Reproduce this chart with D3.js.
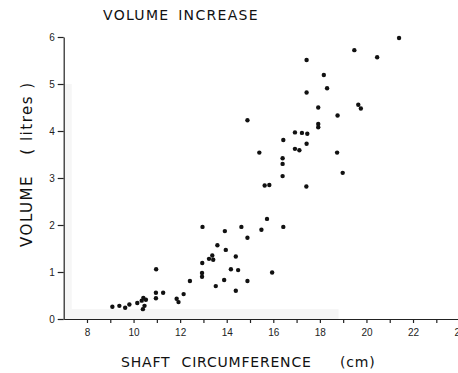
<!DOCTYPE html>
<html>
<head>
<meta charset="utf-8">
<script src="https://cdn.jsdelivr.net/npm/d3@7"></script>
<style>
  body { margin: 0; background: #fff; }
  svg { display: block; font-family: "DejaVu Sans", sans-serif; }
</style>
</head>
<body>
<svg width="458" height="373"></svg>
<script>
// shaft circumference (cm) and volume increase (litres)
const circumference = [
  9.09, 9.39, 9.64, 9.82, 10.16, 10.35, 10.42, 10.53, 10.47, 10.40,
  10.97, 10.96, 10.96, 11.27, 11.85, 11.93, 12.15, 12.42, 12.96, 12.95,
  12.94, 12.94, 13.24, 13.38, 13.42, 13.53, 13.60, 13.89, 13.92, 13.96,
  14.18, 14.39, 14.39, 14.49, 14.63, 14.89, 14.89, 15.49, 15.73, 15.63,
  15.83, 15.95, 16.43, 16.40, 16.40, 16.40, 16.43, 15.40, 14.89, 16.93,
  16.93, 17.12, 17.23, 17.46, 17.43, 17.42, 17.43, 17.43, 17.93, 17.93,
  17.93, 18.17, 18.31, 18.76, 18.74, 18.98, 19.48, 19.65, 19.76, 20.46,
  21.40
];
const volume = [
  0.26, 0.28, 0.24, 0.31, 0.34, 0.39, 0.45, 0.41, 0.28, 0.21,
  1.06, 0.56, 0.44, 0.56, 0.43, 0.36, 0.53, 0.81, 1.96, 1.19,
  0.98, 0.90, 1.28, 1.35, 1.26, 0.70, 1.57, 0.83, 1.87, 1.47,
  1.06, 1.33, 0.60, 1.04, 1.96, 1.73, 0.81, 1.90, 2.13, 2.84,
  2.85, 0.99, 1.96, 3.04, 3.30, 3.42, 3.81, 3.54, 4.23, 3.97,
  3.62, 3.59, 3.96, 3.94, 3.73, 2.82, 4.82, 5.51, 4.50, 4.15,
  4.08, 5.19, 4.91, 4.33, 3.54, 3.11, 5.72, 4.56, 4.48, 5.57,
  5.98
];

const xTicks = d3.range(8, 25);
const yTicks = [0, 1, 2, 3, 4, 5, 6];

const svg = d3.select("svg");

const x = d3.scaleLinear().domain([7, 24]).range([63.7, 459.6]);
const y = d3.scaleLinear().domain([0, 6]).range([319, 37]);

// faint scan shading along the axes
svg.append("rect")
  .attr("x", x(7)).attr("y", y(5))
  .attr("width", 8).attr("height", y(0) - y(5))
  .attr("fill", "#f6f6f6");
svg.append("rect")
  .attr("x", x(7)).attr("y", y(0) - 10)
  .attr("width", x(18.8) - x(7)).attr("height", 10)
  .attr("fill", "#f6f6f6");

const xAxis = d3.axisBottom(x)
  .tickValues(xTicks)
  .tickFormat((d) => (d % 2 === 0 ? d : ""))
  .tickSize(4)
  .tickSizeOuter(0)
  .tickPadding(6);

const yAxis = d3.axisLeft(y)
  .tickValues(yTicks)
  .tickFormat(d3.format("d"))
  .tickSize(6)
  .tickSizeOuter(0)
  .tickPadding(3);

svg.append("g")
  .attr("transform", "translate(0," + y(0) + ")")
  .call(xAxis)
  .call((g) => g.selectAll("text").attr("font-size", 10).attr("fill", "#222"));

svg.append("g")
  .attr("transform", "translate(" + x(7) + ",0)")
  .call(yAxis)
  .call((g) => g.selectAll("text").attr("font-size", 10).attr("fill", "#222"));

svg.selectAll(".domain, .tick line")
  .attr("stroke", "#222")
  .attr("stroke-width", 1.2);

// points
svg.append("g")
  .selectAll("circle")
  .data(circumference)
  .join("circle")
  .attr("cx", (d) => x(d))
  .attr("cy", (d, i) => y(volume[i]))
  .attr("r", 2.2)
  .attr("fill", "#111");

// titles
svg.append("text")
  .attr("x", 103).attr("y", 20)
  .attr("font-size", 14)
  .attr("letter-spacing", 1.3)
  .attr("word-spacing", 3)
  .attr("fill", "#111")
  .text("VOLUME INCREASE");

svg.append("text")
  .attr("x", 121).attr("y", 367)
  .attr("font-size", 14)
  .attr("letter-spacing", 0.8)
  .attr("word-spacing", 6)
  .attr("fill", "#111")
  .text("SHAFT CIRCUMFERENCE");

svg.append("text")
  .attr("x", 340).attr("y", 367)
  .attr("font-size", 14)
  .attr("letter-spacing", 0.8)
  .attr("fill", "#111")
  .text("(cm)");

svg.append("text")
  .attr("transform", "translate(32,211) rotate(-90)")
  .attr("text-anchor", "middle")
  .attr("font-size", 15)
  .attr("letter-spacing", 1.5)
  .attr("fill", "#111")
  .text("VOLUME");

svg.append("text")
  .attr("transform", "translate(32,118) rotate(-90)")
  .attr("text-anchor", "middle")
  .attr("font-size", 15)
  .attr("letter-spacing", 1.5)
  .attr("fill", "#111")
  .text("( litres )");
</script>
</body>
</html>
